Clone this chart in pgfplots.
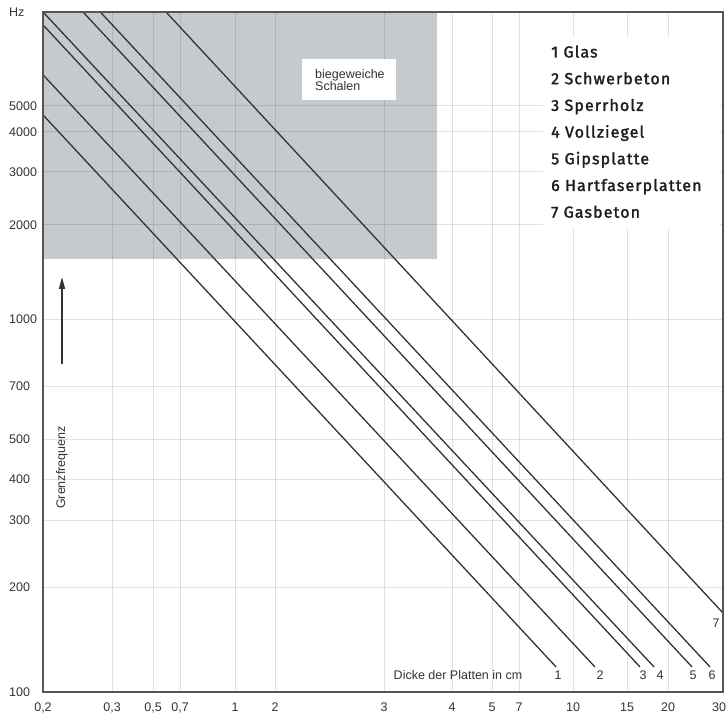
\documentclass[border=0pt]{standalone}
\usepackage{fontspec}
\setmainfont{Liberation Sans}
\newfontfamily\legfont{Fira Sans}[FakeBold=1.8, LetterSpace=7]
\usepackage{pgfplots}
\pgfplotsset{compat=1.18}
\usetikzlibrary{arrows.meta}

\definecolor{shade}{RGB}{198,201,205}
\definecolor{ink}{RGB}{51,51,51}
\definecolor{axisgray}{RGB}{85,85,85}

% The printed scale is not a clean logarithmic one: every interval between two
% labelled grid lines has its own length. Each axis is therefore mapped piecewise,
% logarithmically inside each interval, onto drawing units.
\newcommand\sg[4]{((#3)+((#4)-(#3))*ln(\tv/(#1))/ln((#2)/(#1)))}
\newcommand\xmap{%
ifthenelse(\tv<0.3,\sg{0.2}{0.3}{43}{112},%
ifthenelse(\tv<0.5,\sg{0.3}{0.5}{112}{153},%
ifthenelse(\tv<0.7,\sg{0.5}{0.7}{153}{180},%
ifthenelse(\tv<1,\sg{0.7}{1}{180}{235},%
ifthenelse(\tv<2,\sg{1}{2}{235}{275},%
ifthenelse(\tv<3,\sg{2}{3}{275}{384},%
ifthenelse(\tv<4,\sg{3}{4}{384}{452},%
ifthenelse(\tv<5,\sg{4}{5}{452}{492},%
ifthenelse(\tv<7,\sg{5}{7}{492}{519},%
ifthenelse(\tv<10,\sg{7}{10}{519}{573},%
ifthenelse(\tv<15,\sg{10}{15}{573}{627},%
ifthenelse(\tv<20,\sg{15}{20}{627}{668},%
\sg{20}{30}{668}{723}))))))))))))}
\newcommand\ymap{%
ifthenelse(\tv<200,\sg{100}{200}{0}{105},%
ifthenelse(\tv<300,\sg{200}{300}{105}{172},%
ifthenelse(\tv<400,\sg{300}{400}{172}{213},%
ifthenelse(\tv<500,\sg{400}{500}{213}{253},%
ifthenelse(\tv<700,\sg{500}{700}{253}{306},%
ifthenelse(\tv<1000,\sg{700}{1000}{306}{373},%
ifthenelse(\tv<2000,\sg{1000}{2000}{373}{467},%
ifthenelse(\tv<3000,\sg{2000}{3000}{467}{520},%
ifthenelse(\tv<4000,\sg{3000}{4000}{520}{560},%
ifthenelse(\tv<5000,\sg{4000}{5000}{560}{586},%
\sg{5000}{10000}{586}{680}))))))))))}

\newcommand\lab{\fontsize{12.5bp}{15bp}\selectfont}

\begin{document}
\begin{tikzpicture}
\begin{axis}[
  name=ax,
  scale only axis, width=680bp, height=680bp,
  x coord trafo/.code={\edef\tv{#1}\pgfmathparse{\xmap}},
  y coord trafo/.code={\edef\tv{#1}\pgfmathparse{\ymap}},
  xmin=0.2, xmax=30, ymin=100, ymax=10000,
  xtick={0.2,0.3,0.5,0.7,1,2,3,4,5,7,10,15,20,30},
  xticklabels={{0,2},{0,3},{0,5},{0,7},1,2,3,4,5,7,10,15,20,\makebox[6bp][r]{30}},
  ytick={100,200,300,400,500,700,1000,2000,3000,4000,5000,10000},
  yticklabels={100,200,300,400,500,700,1000,2000,3000,4000,5000,Hz},
  major tick length=0pt,
  grid=major,
  major grid style={black, opacity=0.11, line width=1bp},
  axis on top,
  axis line style={axisgray, line width=2bp},
  ticklabel style={font=\lab, text=ink, inner sep=0pt},
  xticklabel style={anchor=north, yshift=-11bp},
  yticklabel style={anchor=west, xshift=-34bp},
]
% region of the flexible shells
\addplot[fill=shade, draw=none] coordinates {(0.2,10000) (3.75,10000) (3.75,1560) (0.2,1560)};
% critical frequency against plate thickness
\addplot[ink, line width=1.3bp] coordinates {(0.2,4630) (8.94,118)};   % 1 Glas
\addplot[ink, line width=1.3bp] coordinates {(0.2,6290) (11.79,118)};  % 2 Schwerbeton
\addplot[ink, line width=1.3bp] coordinates {(0.2,9090) (16.43,118)};  % 3 Sperrholz
\addplot[ink, line width=1.3bp] coordinates {(0.2,10000) (18.13,118)}; % 4 Vollziegel
\addplot[ink, line width=1.3bp] coordinates {(0.253,10000) (23.87,118)}; % 5 Gipsplatte
\addplot[ink, line width=1.3bp] coordinates {(0.280,10000) (27.26,118)}; % 6 Hartfaserplatten
\addplot[ink, line width=1.3bp] coordinates {(0.588,10000) (30,168.4)};  % 7 Gasbeton
\end{axis}

\begin{scope}[shift={(ax.north west)}, x=1bp, y=-1bp, shift={(-43,-12)}]
  \fill[white] (302,59) rectangle (396,100);
  \node[anchor=base west, inner sep=0, font=\lab, text=ink] at (315,78.5) {biegeweiche};
  \node[anchor=base west, inner sep=0, font=\lab, text=ink] at (315,91) {Schalen};

  \fill[white] (543,37) rectangle (719.5,228);
  \foreach \t [count=\i] in {1 Glas,2 Schwerbeton,3 Sperrholz,4 Vollziegel,5 Gipsplatte,6 Hartfaserplatten,7 Gasbeton}
    \node[anchor=base west, inner sep=0, font=\legfont\fontsize{16bp}{19bp}\selectfont, text=black!88]
      at (551,{57.5+26.7*(\i-1)}) {\t};

  \node[rotate=90, inner sep=0, font=\lab, text=ink] at (62,467.5) {Grenzfrequenz};
  \draw[ink, line width=1.5bp, -{Triangle[length=12bp,width=6bp]}] (62,364) -- (62,277);

  \node[anchor=base, inner sep=0, font=\lab, text=ink] at (458,680) {Dicke der Platten in cm};
  \foreach \x/\n in {558/1,600/2,643/3,660/4,693/5,712/6}
    \node[anchor=base, inner sep=0, font=\lab, text=ink] at (\x,679.5) {\n};
  \node[anchor=base, inner sep=0, font=\lab, text=ink] at (716,628) {7};

  \pgfresetboundingbox
  \path[use as bounding box] (0,0) rectangle (727,715);
\end{scope}
\end{tikzpicture}
\end{document}
